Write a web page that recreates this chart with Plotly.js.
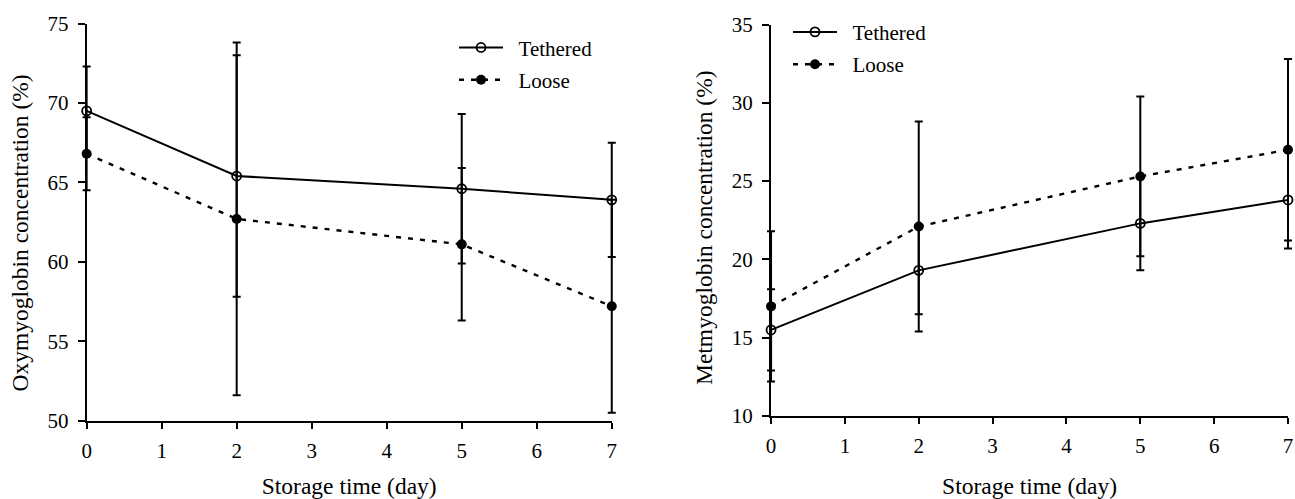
<!DOCTYPE html>
<html>
<head>
<meta charset="utf-8">
<script src="https://cdn.plot.ly/plotly-3.0.1.min.js"></script>
<style>html,body{margin:0;padding:0;background:#fff;}#chart{width:1295px;height:499px;}</style>
</head>
<body>
<div id="chart"></div>
<script>
// ---- data ----
const days = [0, 2, 5, 7];
const xTicks = [0, 1, 2, 3, 4, 5, 6, 7];
const oxyTethered = [69.5, 65.4, 64.6, 63.9];
const oxyTetheredErr = [2.8, 7.6, 4.7, 3.6];
const oxyLoose = [66.8, 62.7, 61.1, 57.2];
const oxyLooseErr = [2.3, 11.1, 4.8, 6.7];
const metTethered = [15.5, 19.3, 22.3, 23.8];
const metTetheredErr = [2.6, 2.8, 3.0, 3.1];
const metLoose = [17.0, 22.1, 25.3, 27.0];
const metLooseErr = [4.8, 6.7, 5.1, 5.8];
const seriesNames = ['Tethered', 'Loose'];
const xTitle = 'Storage time (day)';
const yTitleLeft = 'Oxymyoglobin concentration (%)';
const yTitleRight = 'Metmyoglobin concentration (%)';

const FONT = 'Liberation Serif, Times New Roman, serif';
const nb = function (n) { return '\u00a0'.repeat(n); };

function tetheredTrace(y, err, xa, ya, leg) {
  return {
    x: days, y: y, type: 'scatter', mode: 'lines+markers', name: nb(2) + seriesNames[0],
    xaxis: xa, yaxis: ya, legend: leg, legendgroup: leg + 'a',
    line: {color: '#000', width: 2, dash: 'solid'},
    marker: {symbol: 'circle-open', size: 9, color: '#000', line: {width: 1.8, color: '#000'}},
    error_y: {type: 'data', array: err, visible: true, color: '#000', thickness: 2, width: 4},
    cliponaxis: false
  };
}
function looseTrace(y, err, xa, ya, leg) {
  return {
    x: days, y: y, type: 'scatter', mode: 'lines+markers', name: nb(2) + seriesNames[1],
    xaxis: xa, yaxis: ya, legend: leg, legendgroup: leg + 'b',
    line: {color: '#000', width: 2.4, dash: '5px,7px'},
    marker: {symbol: 'circle', size: 10, color: '#000'},
    error_y: {type: 'data', array: err, visible: true, color: '#000', thickness: 2, width: 4},
    cliponaxis: false
  };
}

const data = [
  tetheredTrace(oxyTethered, oxyTetheredErr, 'x', 'y', 'legend'),
  looseTrace(oxyLoose, oxyLooseErr, 'x', 'y', 'legend'),
  tetheredTrace(metTethered, metTetheredErr, 'x2', 'y2', 'legend2'),
  looseTrace(metLoose, metLooseErr, 'x2', 'y2', 'legend2')
];

function xAxis(domain, anchor) {
  return {
    domain: domain, anchor: anchor, range: [0, 7], tickvals: xTicks, ticktext: xTicks.map(String),
    ticks: 'outside', ticklen: 6, tickwidth: 2, tickcolor: '#000', ticklabelstandoff: 4,
    showline: true, linewidth: 2, linecolor: '#000', showgrid: false, zeroline: false,
    tickfont: {family: FONT, size: 21, color: '#000'},
    title: {text: xTitle, font: {family: FONT, size: 23.5, color: '#000'}, standoff: 20},
    fixedrange: true
  };
}
function yAxis(domain, anchor, range) {
  return {
    domain: domain, anchor: anchor, range: range, dtick: 5, tick0: 0,
    ticks: 'outside', ticklen: 7, tickwidth: 2, tickcolor: '#000', ticklabelstandoff: 5,
    showline: true, linewidth: 2, linecolor: '#000', showgrid: false, zeroline: false,
    tickfont: {family: FONT, size: 21, color: '#000'},
    fixedrange: true
  };
}
function yTitle(text, xpx, ypx) {
  return {
    text: text, xref: 'paper', yref: 'paper', x: xpx / 1295, y: 1 - ypx / 499,
    xanchor: 'center', yanchor: 'middle', textangle: -90, showarrow: false,
    font: {family: FONT, size: 23.5, color: '#000'}
  };
}

const legendBase = {
  font: {family: FONT, size: 21, color: '#000'}, bgcolor: 'rgba(0,0,0,0)', borderwidth: 0,
  xanchor: 'left', yanchor: 'top', itemwidth: 44, tracegroupgap: 2, traceorder: 'grouped'
};

const layout = {
  width: 1295, height: 499,
  margin: {l: 0, r: 0, t: 0, b: 0},
  paper_bgcolor: '#fff', plot_bgcolor: '#fff',
  showlegend: true,
  xaxis: xAxis([0.0669, 0.4724], 'y'),
  yaxis: yAxis([0.1569, 0.9529], 'x', [50, 75]),
  xaxis2: xAxis([0.5954, 0.9946], 'y2'),
  yaxis2: yAxis([0.1663, 0.9509], 'x2', [10, 35]),
  annotations: [yTitle(yTitleLeft, 20, 233.5), yTitle(yTitleRight, 704.5, 227.5)],
  legend: Object.assign({}, legendBase, {x: 0.3506, y: 0.9453}),
  legend2: Object.assign({}, legendBase, {x: 0.6085, y: 0.9764})
};

Plotly.newPlot('chart', data, layout, {displayModeBar: false, staticPlot: true}).then(function (gd) {
  // let error bars at the range ends show in full, like the markers
  gd.querySelectorAll('.cartesianlayer [clip-path]').forEach(function (el) {
    el.removeAttribute('clip-path');
  });
});
</script>
</body>
</html>
